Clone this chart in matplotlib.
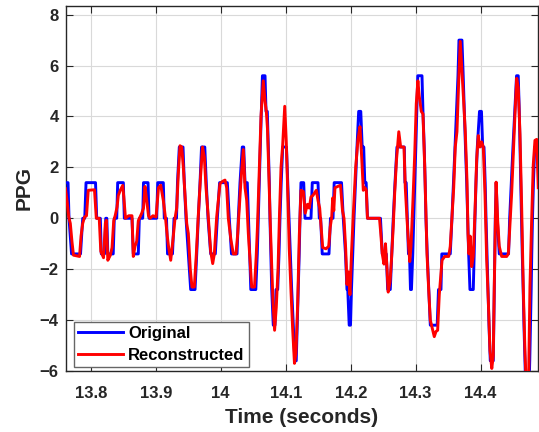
import numpy as np
import matplotlib
matplotlib.use("Agg")
import matplotlib.pyplot as plt

plt.rcParams['font.family'] = ['Liberation Sans', 'DejaVu Sans']
plt.rcParams['font.weight'] = 'bold'

# Original (quantized) PPG signal: breakpoint times (s) and values
t_orig = [13.7612, 13.7651, 13.7666, 13.7705, 13.7843, 13.7877, 13.7908, 13.7928,
          13.8074, 13.8092, 13.8148, 13.8163, 13.8212, 13.8231, 13.8248, 13.8263,
          13.8346, 13.8363, 13.8400, 13.8415, 13.8502, 13.8517, 13.8635, 13.8655,
          13.8732, 13.8748, 13.8800, 13.8812, 13.8882, 13.8897, 13.9015, 13.9031,
          13.9117, 13.9132, 13.9166, 13.9182, 13.9258, 13.9282, 13.9320, 13.9335,
          13.9363, 13.9420, 13.9440, 13.9466, 13.9502, 13.9538, 13.9605, 13.9631,
          13.9655, 13.9682, 13.9705, 13.9755, 13.9778, 13.9805, 13.9846, 13.9917,
          13.9948, 13.9983, 14.0102, 14.0132, 14.0166, 14.0251, 14.0271, 14.0297,
          14.0332, 14.0354, 14.0374, 14.0409, 14.0428, 14.0446, 14.0463, 14.0540,
          14.0563, 14.0578, 14.0594, 14.0609, 14.0625, 14.0642, 14.0682, 14.0697,
          14.0717, 14.0732, 14.0748, 14.0758, 14.0771, 14.0785, 14.0809, 14.0835,
          14.0851, 14.0877, 14.0897, 14.0912, 14.0931, 14.0954, 14.1012, 14.1031,
          14.1051, 14.1071, 14.1092, 14.1117, 14.1140, 14.1162, 14.1177, 14.1192,
          14.1208, 14.1220, 14.1235, 14.1277, 14.1297, 14.1389, 14.1409, 14.1497,
          14.1517, 14.1538, 14.1562, 14.1666, 14.1689, 14.1728, 14.1746, 14.1859,
          14.1886, 14.1920, 14.1943, 14.1955, 14.1977, 14.1997, 14.2012, 14.2031,
          14.2051, 14.2074, 14.2097, 14.2123, 14.2155, 14.2177, 14.2200, 14.2217,
          14.2238, 14.2258, 14.2458, 14.2486, 14.2548, 14.2569, 14.2609, 14.2632,
          14.2655, 14.2682, 14.2712, 14.2825, 14.2835, 14.2854, 14.2871, 14.2889,
          14.2905, 14.2920, 14.2935, 14.2955, 14.2971, 14.2986, 14.3002, 14.3017,
          14.3032, 14.3097, 14.3112, 14.3131, 14.3146, 14.3158, 14.3178, 14.3202,
          14.3225, 14.3331, 14.3351, 14.3389, 14.3402, 14.3532, 14.3558, 14.3582,
          14.3605, 14.3628, 14.3651, 14.3666, 14.3712, 14.3731, 14.3748, 14.3766,
          14.3785, 14.3800, 14.3815, 14.3835, 14.3886, 14.3900, 14.3912, 14.3928,
          14.3948, 14.3982, 14.4012, 14.4031, 14.4051, 14.4069, 14.4082, 14.4097,
          14.4112, 14.4128, 14.4148, 14.4194, 14.4209, 14.4225, 14.4240, 14.4255,
          14.4286, 14.4429, 14.4446, 14.4471, 14.4497, 14.4525, 14.4552, 14.4578,
          14.4594, 14.4605, 14.4617, 14.4628, 14.4640, 14.4654, 14.4666, 14.4682,
          14.4697, 14.4740, 14.4755, 14.4766, 14.4777, 14.4786, 14.4797, 14.4812,
          14.4832, 14.4874]
v_orig = [1.4, 1.4, 0.0, -1.4, -1.4, 0.0, 0.0, 1.4,
          1.4, 0.0, 0.0, -1.4, -1.4, 0.0, 0.0, -1.4,
          -1.4, 0.0, 0.0, 1.4, 1.4, 0.0, 0.0, -1.4,
          -1.4, 0.0, 0.0, 1.4, 1.4, 0.0, 0.0, 1.4,
          1.4, 0.0, 0.0, -1.4, -1.4, 0.0, 0.0, 1.4,
          2.8, 2.8, 1.4, 0.0, -1.4, -2.8, -2.8, -1.4,
          0.0, 1.4, 2.8, 2.8, 1.4, 0.0, -1.4, -1.4,
          0.0, 1.4, 1.4, 0.0, -1.4, -1.4, 0.0, 1.4,
          2.8, 2.8, 1.4, 1.4, 0.0, -1.4, -2.8, -2.8,
          -1.4, 0.0, 1.4, 2.8, 4.2, 5.6, 5.6, 4.2,
          4.2, 2.8, 1.4, 0.0, -1.4, -2.8, -4.2, -4.2,
          -2.8, -2.8, -1.4, 0.0, 1.4, 2.8, 2.8, 1.4,
          0.0, -1.4, -2.8, -4.2, -5.6, -5.6, -4.2, -2.8,
          -1.4, 0.0, 1.4, 1.4, 0.0, 0.0, 1.4, 1.4,
          0.0, 0.0, -1.4, -1.4, 0.0, 0.0, 1.4, 1.4,
          0.0, -1.4, -2.8, -2.8, -4.2, -4.2, -2.8, -1.4,
          0.0, 1.4, 2.8, 4.2, 4.2, 2.8, 2.8, 1.4,
          1.4, 0.0, 0.0, -1.4, -1.4, -2.8, -2.8, -1.4,
          0.0, 1.4, 2.8, 2.8, 1.4, 1.4, 0.0, -1.4,
          -1.4, -2.8, -2.8, -1.4, 0.0, 1.4, 2.8, 4.2,
          5.6, 5.6, 4.2, 2.8, 1.4, 0.0, -1.4, -2.8,
          -4.2, -4.2, -2.8, -2.8, -1.4, -1.4, 0.0, 1.4,
          2.8, 4.2, 5.6, 7.0, 7.0, 5.6, 4.2, 2.8,
          1.4, 0.0, -1.4, -2.8, -2.8, -1.4, 0.0, 1.4,
          2.8, 4.2, 4.2, 2.8, 2.8, 1.4, 0.0, -1.4,
          -2.8, -4.2, -5.6, -5.6, -2.8, 0.0, 1.4, 0.0,
          -1.4, -1.4, 0.0, 1.4, 2.8, 4.2, 5.6, 5.6,
          4.2, 2.8, 1.4, 0.0, -1.4, -2.8, -4.2, -5.6,
          -7.0, -7.0, -5.6, -4.2, -2.8, -1.4, 0.0, 1.4,
          2.8, 2.8]

# Reconstructed PPG signal
t_rec = [13.7612, 13.7635, 13.7662, 13.7686, 13.7712, 13.7735, 13.7828, 13.7851,
         13.7877, 13.7905, 13.7935, 13.7962, 13.8058, 13.8086, 13.8131, 13.8155,
         13.8197, 13.8225, 13.8240, 13.8263, 13.8302, 13.8328, 13.8354, 13.8378,
         13.8405, 13.8425, 13.8455, 13.8492, 13.8509, 13.8535, 13.8585, 13.8635,
         13.8655, 13.8682, 13.8708, 13.8732, 13.8785, 13.8812, 13.8835, 13.8862,
         13.8889, 13.8912, 13.8958, 13.9005, 13.9043, 13.9077, 13.9117, 13.9151,
         13.9178, 13.9197, 13.9231, 13.9271, 13.9297, 13.9323, 13.9348, 13.9374,
         13.9400, 13.9425, 13.9451, 13.9477, 13.9502, 13.9532, 13.9558, 13.9594,
         13.9625, 13.9655, 13.9689, 13.9720, 13.9748, 13.9774, 13.9809, 13.9846,
         13.9877, 13.9902, 13.9938, 13.9963, 13.9989, 14.0028, 14.0066, 14.0092,
         14.0117, 14.0158, 14.0194, 14.0235, 14.0262, 14.0286, 14.0312, 14.0348,
         14.0374, 14.0400, 14.0425, 14.0451, 14.0477, 14.0520, 14.0546, 14.0566,
         14.0594, 14.0620, 14.0655, 14.0682, 14.0702, 14.0720, 14.0743, 14.0763,
         14.0785, 14.0805, 14.0829, 14.0855, 14.0882, 14.0905, 14.0928, 14.0954,
         14.0985, 14.1009, 14.1032, 14.1055, 14.1082, 14.1108, 14.1135, 14.1158,
         14.1185, 14.1209, 14.1235, 14.1271, 14.1300, 14.1335, 14.1363, 14.1389,
         14.1420, 14.1471, 14.1497, 14.1523, 14.1546, 14.1569, 14.1620, 14.1662,
         14.1685, 14.1708, 14.1723, 14.1740, 14.1758, 14.1843, 14.1874, 14.1897,
         14.1923, 14.1943, 14.1963, 14.1989, 14.2012, 14.2043, 14.2077, 14.2112,
         14.2143, 14.2169, 14.2194, 14.2220, 14.2240, 14.2258, 14.2443, 14.2463,
         14.2486, 14.2512, 14.2535, 14.2555, 14.2577, 14.2605, 14.2628, 14.2655,
         14.2677, 14.2705, 14.2740, 14.2769, 14.2820, 14.2840, 14.2866, 14.2892,
         14.2909, 14.2928, 14.2958, 14.2985, 14.3009, 14.3034, 14.3055, 14.3086,
         14.3112, 14.3138, 14.3174, 14.3200, 14.3225, 14.3262, 14.3286, 14.3312,
         14.3338, 14.3363, 14.3405, 14.3446, 14.3508, 14.3532, 14.3558, 14.3585,
         14.3609, 14.3635, 14.3662, 14.3686, 14.3712, 14.3738, 14.3763, 14.3789,
         14.3805, 14.3820, 14.3838, 14.3862, 14.3886, 14.3912, 14.3938, 14.3963,
         14.3989, 14.4015, 14.4040, 14.4066, 14.4092, 14.4117, 14.4143, 14.4171,
         14.4194, 14.4209, 14.4237, 14.4262, 14.4286, 14.4323, 14.4400, 14.4425,
         14.4443, 14.4477, 14.4502, 14.4528, 14.4554, 14.4578, 14.4605, 14.4631,
         14.4655, 14.4682, 14.4705, 14.4735, 14.4758, 14.4785, 14.4809, 14.4835,
         14.4862, 14.4886]
v_rec = [1.16, 0.70, 0.05, -0.20, -0.93, -1.45, -1.50, -0.70,
         -0.20, 0.05, 0.10, 1.10, 1.12, 0.00, 0.00, -1.30,
         -1.55, -0.20, -0.08, -1.65, -1.45, -1.15, -0.10, 0.12,
         0.44, 0.90, 1.10, 1.29, 0.84, 0.00, 0.10, 0.10,
         -1.50, -1.10, -0.90, -0.10, 0.20, 0.40, 1.25, 0.70,
         0.10, 0.00, 0.10, 0.05, 1.20, 1.30, 0.70, 0.00,
         -0.70, -1.10, -1.65, -0.70, 0.00, 0.40, 1.75, 2.85,
         2.80, 2.00, 0.90, -0.20, -0.60, -2.00, -2.70, -2.70,
         -1.40, 0.10, 1.60, 2.80, 2.40, 1.20, 0.05, -1.30,
         -1.78, -1.40, 0.05, 0.70, 1.36, 1.45, 1.50, 1.20,
         0.00, -0.86, -1.40, -1.40, -0.60, 0.40, 1.50, 2.70,
         1.20, 0.70, -0.60, -1.65, -2.70, -2.70, -1.50, -0.30,
         2.00, 4.00, 5.40, 4.60, 4.20, 3.50, 1.50, -0.20,
         -1.90, -3.30, -4.40, -3.50, -2.00, 0.20, 2.00, 2.90,
         4.40, 3.00, 1.00, -1.20, -2.90, -4.40, -5.70, -5.30,
         -3.30, -0.70, 1.10, 1.05, 0.20, 0.55, 0.40, 0.84,
         0.90, 1.10, 0.70, 0.40, -0.40, -1.15, -1.20, -1.10,
         -0.35, 0.05, 0.80, 0.30, 1.20, 1.30, 0.30, 0.00,
         -1.20, -2.60, -2.10, -3.00, -1.40, 0.30, 2.00, 3.10,
         3.60, 2.40, 1.10, 1.20, 1.10, 0.00, 0.00, -0.60,
         -1.40, -1.80, -1.00, -1.80, -2.90, -2.50, -1.60, -0.30,
         1.00, 2.30, 3.40, 2.80, 2.80, 1.20, 0.00, -1.10,
         -1.70, -1.10, 0.70, 2.50, 4.50, 5.40, 4.80, 4.20,
         4.10, 2.10, -1.40, -2.80, -4.00, -4.40, -4.65, -4.45,
         -4.40, -3.00, -1.65, -1.50, -1.50, -1.10, 0.00, 1.20,
         2.80, 3.40, 5.40, 6.95, 5.80, 4.60, 3.40, 1.50,
         -0.60, -1.40, -0.70, -1.90, -1.50, 0.20, 2.30, 3.25,
         2.80, 3.00, 2.80, 1.00, -1.60, -3.20, -5.20, -5.90,
         -5.40, -2.70, 1.42, -0.10, -1.10, -1.50, -1.50, -1.40,
         -0.60, 1.00, 2.50, 4.10, 5.50, 5.15, 3.30, 0.40,
         -2.70, -5.30, -6.80, -6.80, -2.70, 0.00, 2.10, 3.06,
         3.10, 1.20]

x_ticks = [13.8, 13.9, 14.0, 14.1, 14.2, 14.3, 14.4]
x_tick_labels = ['13.8', '13.9', '14', '14.1', '14.2', '14.3', '14.4']
y_ticks = [-6, -4, -2, 0, 2, 4, 6, 8]

fig = plt.figure(figsize=(5.39, 4.32), dpi=100)
ax = fig.add_axes([65.5 / 539, 61 / 432, (538 - 65.5) / 539, (371 - 6) / 432])

ax.plot(t_orig, v_orig, color='#0000FF', lw=2.1, label='Original', zorder=3)
ax.plot(t_rec, v_rec, color='#FF0000', lw=2.1, label='Reconstructed', zorder=4)

ax.set_xlim(13.7612, 14.4882)
ax.set_ylim(-6, 8.34)
ax.set_xticks(x_ticks)
ax.set_xticklabels(x_tick_labels)
ax.set_yticks(y_ticks)
ax.grid(True, color='#d9d9d9', lw=0.8)
ax.set_axisbelow(True)
ax.tick_params(direction='in', top=True, right=True, length=5, width=0.8,
               labelsize=12, colors='#262626')
ax.tick_params(axis='x', pad=11)
ax.tick_params(axis='y', pad=5)
for lab in ax.get_xticklabels() + ax.get_yticklabels():
    lab.set_fontweight('bold')
    lab.set_color('#262626')
for s in ax.spines.values():
    s.set_color('#262626')
    s.set_linewidth(1.0)

ax.set_xlabel('Time (seconds)', fontsize=15, fontweight='bold', color='#262626', labelpad=5)
ax.set_ylabel('PPG', fontsize=15, fontweight='bold', color='#262626', labelpad=4)

leg = ax.legend(loc='lower left', bbox_to_anchor=(0.018, 0.011), fontsize=12,
                handlelength=2.7, handletextpad=0.3, borderpad=0.25, labelspacing=0.42,
                fancybox=False, framealpha=1.0, edgecolor='#666666', borderaxespad=0)
leg.get_frame().set_linewidth(1.0)
for txt in leg.get_texts():
    txt.set_fontweight('bold')

fig.savefig('out.png', dpi=100)
